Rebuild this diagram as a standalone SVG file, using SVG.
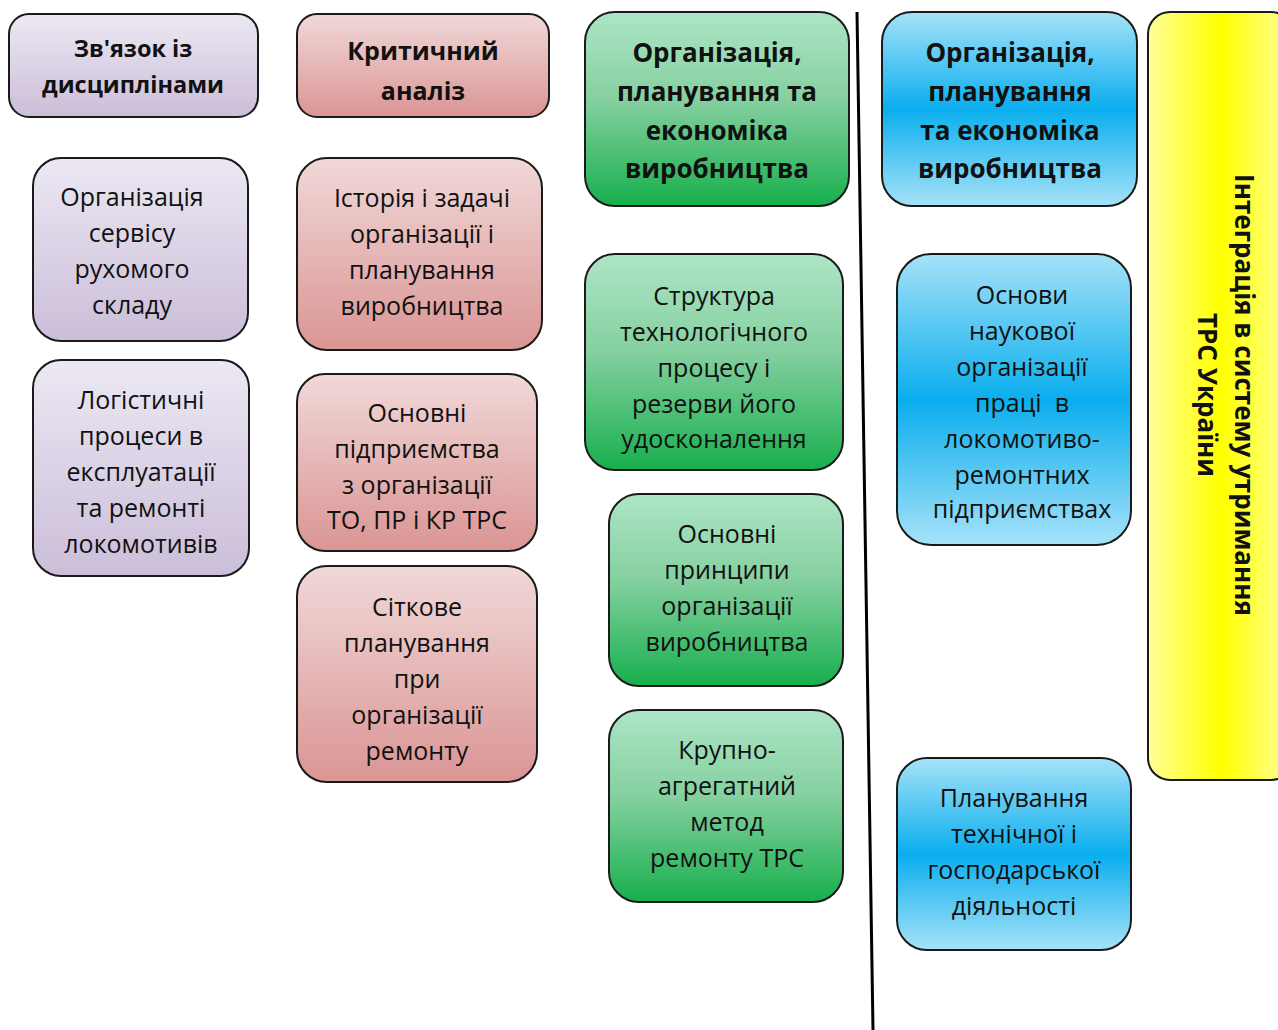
<svg xmlns="http://www.w3.org/2000/svg" width="1278" height="1030" viewBox="0 0 1278 1030">
<defs>
<linearGradient id="gP" x1="0" y1="0" x2="0" y2="1"><stop offset="0" stop-color="#ECE8F3"/><stop offset="1" stop-color="#CBBED9"/></linearGradient>
<linearGradient id="gR" x1="0" y1="0" x2="0" y2="1"><stop offset="0" stop-color="#F1D8D8"/><stop offset="1" stop-color="#DA9594"/></linearGradient>
<linearGradient id="gG" x1="0" y1="0" x2="0" y2="1"><stop offset="0" stop-color="#ADE5C6"/><stop offset="0.45" stop-color="#85D0A0"/><stop offset="1" stop-color="#17AF4D"/></linearGradient>
<linearGradient id="gB" x1="0" y1="0" x2="0" y2="1"><stop offset="0" stop-color="#A6E2F8"/><stop offset="0.5" stop-color="#0AAEEE"/><stop offset="1" stop-color="#A6E2F8"/></linearGradient>
<linearGradient id="gY" x1="0" y1="0" x2="1" y2="0"><stop offset="0" stop-color="#FFFF9A"/><stop offset="0.5" stop-color="#FFFF00"/><stop offset="1" stop-color="#FFFF9A"/></linearGradient>
</defs>
<style>
.b{stroke:#1a1a1a;stroke-width:2}
.t{font-family:"Open Sans","Liberation Sans",sans-serif;font-size:25px;fill:#111;text-anchor:middle;dominant-baseline:central}
.h{font-family:"Open Sans","Liberation Sans",sans-serif;font-weight:bold;font-size:26px;fill:#111;text-anchor:middle;dominant-baseline:central}
.hs{font-size:23.5px}
.hr{font-size:25px}
</style>
<rect width="1278" height="1030" fill="#fff"/>
<g id="connectors">
<line x1="857" y1="12" x2="873" y2="1030" stroke="#000" stroke-width="3"/>
</g>
<g id="h-purple"><rect class="b" x="9" y="14" width="249" height="103" rx="20" fill="url(#gP)"/>
<text class="h hs" x="133" y="48">Зв'язок із</text><text class="h hs" x="133" y="84">дисциплінами</text></g>
<g id="h-red"><rect class="b" x="297" y="14" width="252" height="103" rx="20" fill="url(#gR)"/>
<text class="h hr" x="423" y="50">Критичний</text><text class="h hr" x="423" y="90">аналіз</text></g>
<g id="h-green"><rect class="b" x="585" y="12" width="264" height="194" rx="30" fill="url(#gG)"/>
<text class="h" x="717" y="52">Організація,</text><text class="h" x="717" y="91">планування та</text><text class="h" x="717" y="130">економіка</text><text class="h" x="717" y="168">виробництва</text></g>
<g id="h-blue"><rect class="b" x="882" y="12" width="255" height="194" rx="30" fill="url(#gB)"/>
<text class="h" x="1010" y="52">Організація,</text><text class="h" x="1010" y="91">планування</text><text class="h" x="1010" y="130">та економіка</text><text class="h" x="1010" y="168">виробництва</text></g>
<g id="yellow"><rect class="b" x="1148" y="12" width="145" height="768" rx="22" fill="url(#gY)"/>
<text class="h" transform="translate(1245,395) rotate(90)" x="0" y="0">Інтеграція в систему утримання</text>
<text class="h" transform="translate(1208,395) rotate(90)" x="0" y="0">ТРС України</text></g>
<g id="p1"><rect class="b" x="33" y="158" width="215" height="183" rx="28" fill="url(#gP)"/>
<text class="t" x="132" y="196">Організація</text><text class="t" x="132" y="232">сервісу</text><text class="t" x="132" y="268">рухомого</text><text class="t" x="132" y="304">складу</text></g>
<g id="p2"><rect class="b" x="33" y="360" width="216" height="216" rx="28" fill="url(#gP)"/>
<text class="t" x="141" y="399">Логістичні</text><text class="t" x="141" y="435">процеси в</text><text class="t" x="141" y="471">експлуатації</text><text class="t" x="141" y="507">та ремонті</text><text class="t" x="141" y="543">локомотивів</text></g>
<g id="r1"><rect class="b" x="297" y="158" width="245" height="192" rx="30" fill="url(#gR)"/>
<text class="t" x="422" y="197">Історія і задачі</text><text class="t" x="422" y="233">організації і</text><text class="t" x="422" y="269">планування</text><text class="t" x="422" y="305">виробництва</text></g>
<g id="r2"><rect class="b" x="297" y="374" width="240" height="177" rx="28" fill="url(#gR)"/>
<text class="t" x="417" y="412">Основні</text><text class="t" x="417" y="448">підприємства</text><text class="t" x="417" y="484">з організації</text><text class="t" x="417" y="519">ТО, ПР і КР ТРС</text></g>
<g id="r3"><rect class="b" x="297" y="566" width="240" height="216" rx="30" fill="url(#gR)"/>
<text class="t" x="417" y="606">Сіткове</text><text class="t" x="417" y="642">планування</text><text class="t" x="417" y="678">при</text><text class="t" x="417" y="714">організації</text><text class="t" x="417" y="750">ремонту</text></g>
<g id="g1"><rect class="b" x="585" y="254" width="258" height="216" rx="30" fill="url(#gG)"/>
<text class="t" x="714" y="295">Структура</text><text class="t" x="714" y="331">технологічного</text><text class="t" x="714" y="367">процесу і</text><text class="t" x="714" y="403">резерви його</text><text class="t" x="714" y="438">удосконалення</text></g>
<g id="g2"><rect class="b" x="609" y="494" width="234" height="192" rx="30" fill="url(#gG)"/>
<text class="t" x="727" y="533">Основні</text><text class="t" x="727" y="569">принципи</text><text class="t" x="727" y="605">організації</text><text class="t" x="727" y="641">виробництва</text></g>
<g id="g3"><rect class="b" x="609" y="710" width="234" height="192" rx="30" fill="url(#gG)"/>
<text class="t" x="727" y="749">Крупно-</text><text class="t" x="727" y="785">агрегатний</text><text class="t" x="727" y="821">метод</text><text class="t" x="727" y="857">ремонту ТРС</text></g>
<g id="bl1"><rect class="b" x="897" y="254" width="234" height="291" rx="34" fill="url(#gB)"/>
<text class="t" x="1022" y="294">Основи</text><text class="t" x="1022" y="330">наукової</text><text class="t" x="1022" y="366">організації</text><text class="t" x="1022" y="402" xml:space="preserve">праці  в</text><text class="t" x="1022" y="438">локомотиво-</text><text class="t" x="1022" y="474">ремонтних</text><text class="t" x="1022" y="508">підприємствах</text></g>
<g id="bl2"><rect class="b" x="897" y="758" width="234" height="192" rx="30" fill="url(#gB)"/>
<text class="t" x="1014" y="797">Планування</text><text class="t" x="1014" y="833">технічної і</text><text class="t" x="1014" y="869">господарської</text><text class="t" x="1014" y="905">діяльності</text></g>
</svg>
